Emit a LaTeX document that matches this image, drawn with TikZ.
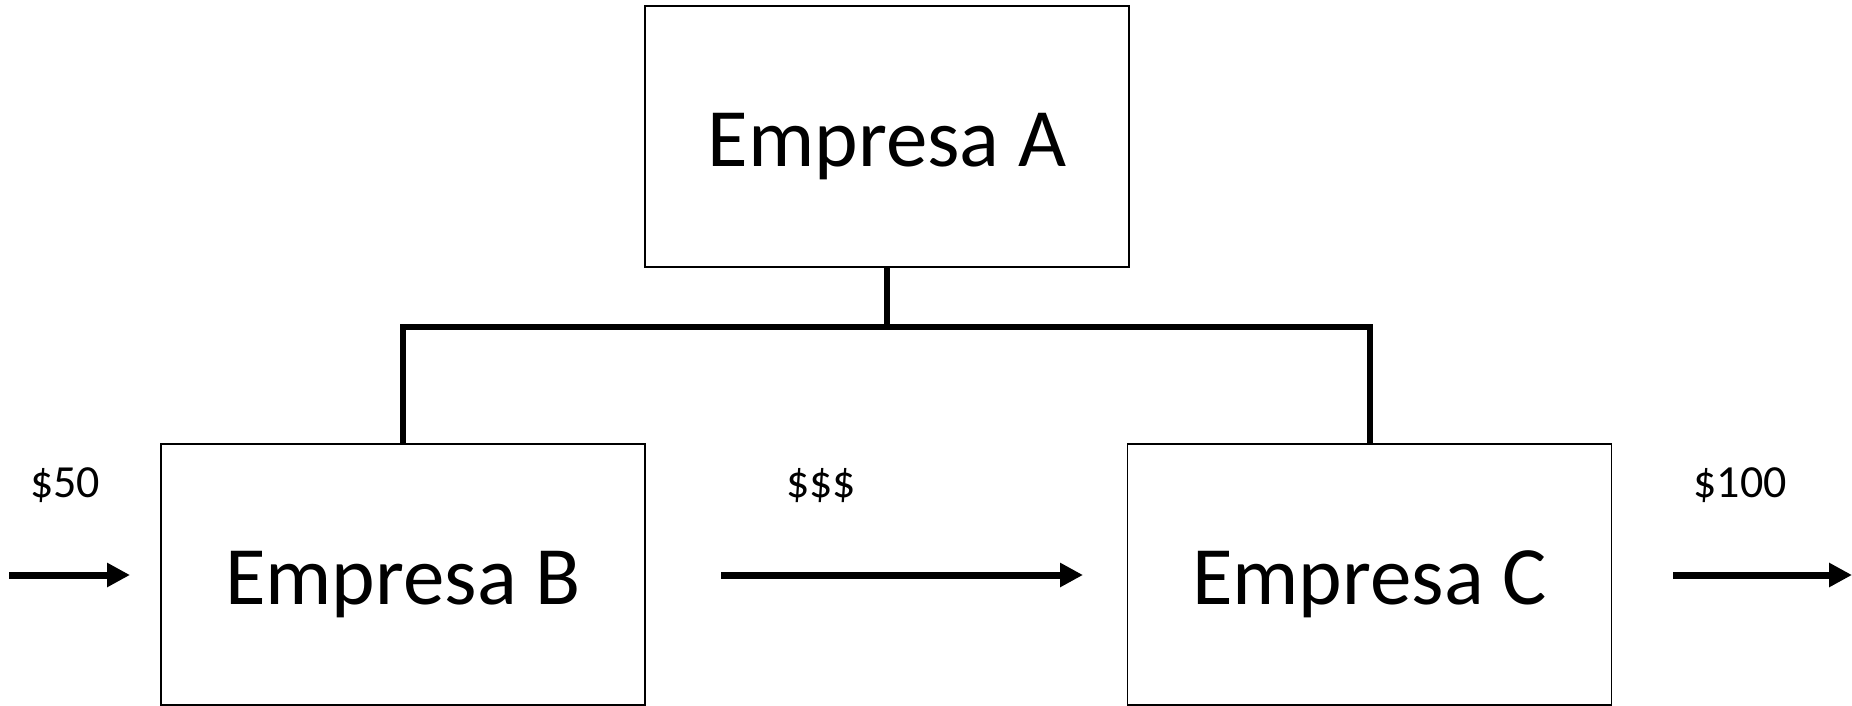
\documentclass[tikz,border=0pt]{standalone}
\usepackage{fontspec}
\setmainfont{Carlito}
\usetikzlibrary{arrows.meta}
\tikzset{
  box/.style={draw=black, line width=1.5pt, inner sep=0pt, minimum width=484pt, minimum height=261pt,
    font=\fontsize{83}{90}\selectfont, text height=59pt, text depth=0pt},
  money/.style={inner sep=0pt, font=\fontsize{46}{50}\selectfont, text height=29pt, text depth=0pt},
  link/.style={line width=6pt},
  flow/.style={line width=7pt, -{Triangle[length=23pt,width=23pt]}}
}
\begin{document}
\begin{tikzpicture}[x=1pt,y=-1pt]
\useasboundingbox (0,0) rectangle (1852,706);
\node[box] (A) at (887,136.5) {Empresa A};
\node[box] (B) at (403,574.5) {Empresa B};
\node[box] (C) at (1369.5,574.5) {Empresa C};
\coordinate (J) at (887,327);
\draw[link] (A.south) -- (J);
\draw[link] (B.north) |- (J) -| (C.north);
\node[money] (L1) at (65,483) {\$50};
\node[money] (L2) at (821,483) {\$\$\$};
\node[money] (L3) at (1740,483) {\$100};
\coordinate (s1) at (9,575);
\coordinate (e1) at (130,575);
\coordinate (s2) at (721,575);
\coordinate (e2) at (1083,575);
\coordinate (s3) at (1673,575);
\coordinate (e3) at (1852,575);
\draw[flow] (s1) -- (e1);
\draw[flow] (s2) -- (e2);
\draw[flow] (s3) -- (e3);
\end{tikzpicture}
\end{document}
